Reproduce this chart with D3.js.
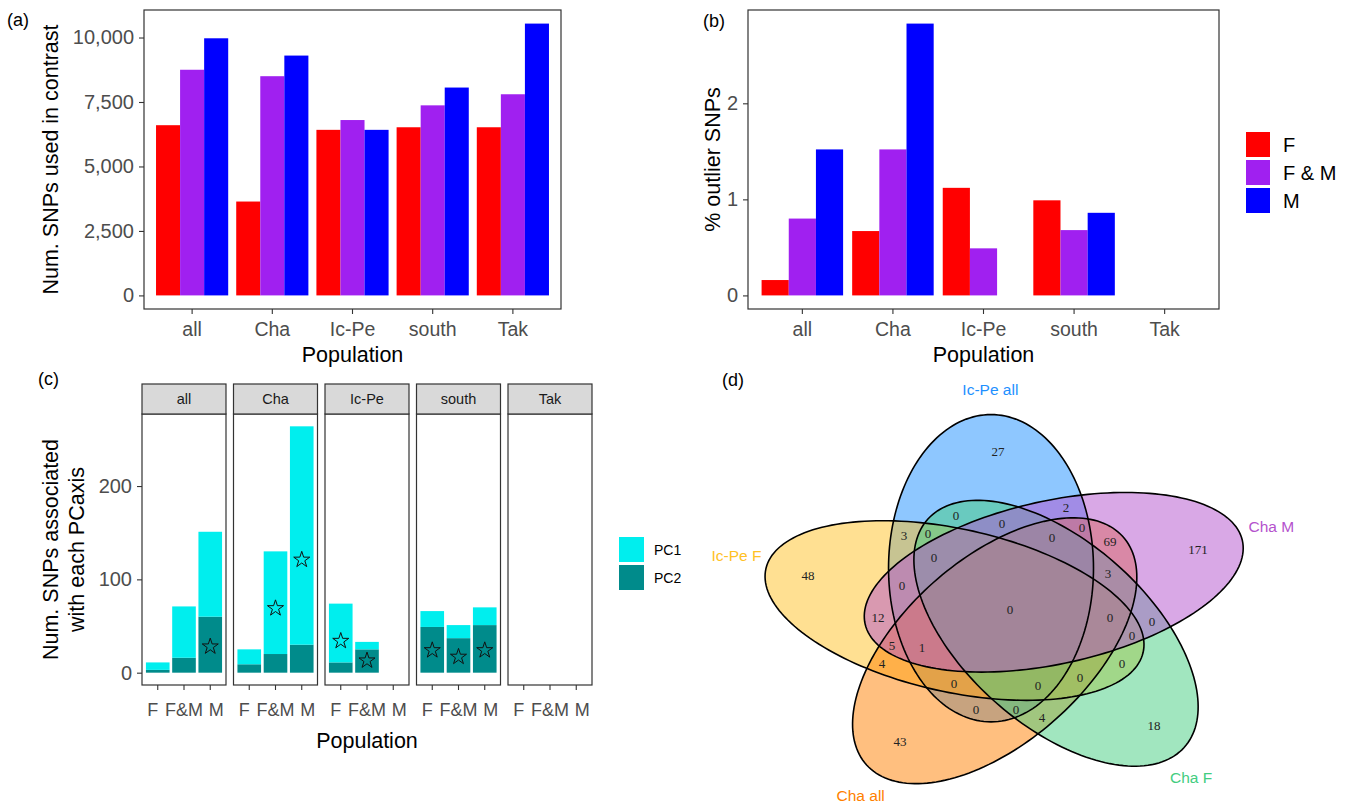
<!DOCTYPE html>
<html>
<head>
<meta charset="utf-8">
<script src="https://cdn.jsdelivr.net/npm/d3@7"></script>
<style>
body { margin: 0; background: #fff; }
text { font-family: "Liberation Sans", Arial, sans-serif; }
</style>
</head>
<body>
<svg id="svg0" width="1353" height="811"></svg>
<script>
// ---- data ----
var pops = ["all", "Cha", "Ic-Pe", "south", "Tak"];
var sexes = ["F", "F & M", "M"];
var sexShort = ["F", "F&M", "M"];
var sexColors = ["#FF0000", "#A020F0", "#0000FF"];

// (a) number of SNPs used in contrast
var numF  = [6600, 3640, 6420, 6520, 6520];
var numFM = [8750, 8500, 6800, 7370, 7800];
var numM  = [9970, 9300, 6420, 8060, 10540];
var numTicks = [0, 2500, 5000, 7500, 10000];

// (b) % outlier SNPs
var pctF  = [0.16, 0.67, 1.12, 0.99, 0];
var pctFM = [0.80, 1.52, 0.49, 0.68, 0];
var pctM  = [1.52, 2.83, 0, 0.86, 0];
var pctTicks = [0, 1, 2];

// (c) SNPs associated with each PC axis
var pc1F  = [8, 16, 63, 17, 0];
var pc1FM = [55, 110, 8, 14, 0];
var pc1M  = [91, 234, 0, 19, 0];
var pc2F  = [3, 9, 11, 49, 0];
var pc2FM = [16, 20, 25, 37, 0];
var pc2M  = [60, 30, 0, 51, 0];
var starF  = [null, null, 34, 24, null];
var starFM = [null, 69, 13, 17, null];
var starM  = [28, 121, null, 24, null];
var pcTicks = [0, 100, 200];
var pcNames = ["PC1", "PC2"];
var pcColors = ["#00EEEE", "#008B8B"];

// (d) venn: sets in drawing order, region counts keyed by member sets
var vennSets = ["Ic-Pe all", "Ic-Pe F", "Cha all", "Cha F", "Cha M"];
var vennFill = ["#1E90FF", "#FFC125", "#FF7F00", "#43CD80", "#B452CD"];
var vennCode = ["B", "Y", "O", "G", "P"];
var vennRegion = ["B", "Y", "O", "G", "P", "BY", "BP", "YP", "YO", "OG", "OP", "YOP", "BYOP", "OGP"];
var vennCount  = [27, 48, 43, 18, 171, 3, 2, 12, 4, 4, 69, 5, 1, 3];

var svg = d3.select('#svg0');
svg.append('rect').attr('width', 1353).attr('height', 811).attr('fill', '#fff');

function styleAxis(g, size) {
    g.select('.domain').remove();
    g.selectAll('.tick line').attr('stroke', '#333333').attr('stroke-width', 1.1);
    g.selectAll('.tick text').attr('fill', '#4D4D4D').style('font-size', size + 'px')
        .style('font-family', '"Liberation Sans", Arial, sans-serif');
}

// ---- bar panels (a) and (b) ----
function barPanel(left, right, top, bottom, series, ticks, fmt, title, titleX) {
    var g = svg.append('g');
    var maxV = d3.max(series, function (s) { return d3.max(s); });
    var y = d3.scaleLinear().domain([-0.05 * maxV, 1.05 * maxV]).range([bottom, top]);
    var x = d3.scaleBand().domain(pops).range([left, right]).paddingInner(0.1).paddingOuter(0.15);
    var xs = d3.scaleBand().domain(sexes).range([0, x.bandwidth()]);

    sexes.forEach(function (s, j) {
        g.selectAll('rect.s' + j)
            .data(series[j])
            .enter()
            .append('rect')
            .attr('x', function (d, i) { return x(pops[i]) + xs(s); })
            .attr('width', xs.bandwidth())
            .attr('y', function (d) { return y(Math.max(d, 0)); })
            .attr('height', function (d) { return y(0) - y(Math.max(d, 0)); })
            .attr('fill', sexColors[j]);
    });

    g.append('rect')
        .attr('x', left).attr('y', top)
        .attr('width', right - left).attr('height', bottom - top)
        .attr('fill', 'none').attr('stroke', '#333333').attr('stroke-width', 1.2);

    var ya = g.append('g').attr('transform', 'translate(' + left + ',0)')
        .call(d3.axisLeft(y).tickValues(ticks).tickFormat(fmt).tickSize(5).tickPadding(5));
    styleAxis(ya, 20);
    var xa = g.append('g').attr('transform', 'translate(0,' + bottom + ')')
        .call(d3.axisBottom(x).tickSize(5).tickPadding(8));
    styleAxis(xa, 19.5);

    g.append('text')
        .attr('x', (left + right) / 2).attr('y', 362)
        .attr('text-anchor', 'middle')
        .style('font-size', '21.5px')
        .text('Population');

    g.append('text')
        .attr('transform', 'translate(' + titleX + ',' + ((top + bottom) / 2) + ') rotate(-90)')
        .attr('text-anchor', 'middle')
        .style('font-size', '21.5px')
        .text(title);
}

barPanel(144, 561, 10, 309, [numF, numFM, numM], numTicks, d3.format(','), 'Num. SNPs used in contrast', 58);
barPanel(748, 1219, 10, 309, [pctF, pctFM, pctM], pctTicks, d3.format('d'), '% outlier SNPs', 720);

// legend (b)
var legB = svg.append('g');
sexes.forEach(function (s, j) {
    legB.append('rect').attr('x', 1246).attr('y', 132 + j * 28)
        .attr('width', 24).attr('height', 25).attr('fill', sexColors[j]);
    legB.append('text').attr('x', 1283).attr('y', 132 + j * 28 + 12.5)
        .attr('dy', '0.36em').style('font-size', '20px').text(s);
});

// ---- (c) facetted stacked bars ----
var cTop = 414, cBottom = 685, stripTop = 384;
var pcMax = d3.max([0, 1, 2, 3, 4].map(function (i) {
    return Math.max(pc1F[i] + pc2F[i], pc1FM[i] + pc2FM[i], pc1M[i] + pc2M[i]);
}));
var yC = d3.scaleLinear().domain([-0.05 * pcMax, 1.05 * pcMax]).range([cBottom, cTop]);
var facet = d3.scaleBand().domain(pops).range([142, 592]).paddingInner(0.082);
var pc1 = [pc1F, pc1FM, pc1M];
var pc2 = [pc2F, pc2FM, pc2M];
var stars = [starF, starFM, starM];
var labelNudge = [-5, 0, 6];   // tick labels spread apart as in the original

var gC = svg.append('g');
pops.forEach(function (p, i) {
    var px = facet(p), pw = facet.bandwidth();
    var xc = d3.scaleBand().domain(sexShort).range([px, px + pw]).paddingInner(0.1).paddingOuter(0.15);
    var cell = gC.append('g');

    sexShort.forEach(function (s, j) {
        var v2 = pc2[j][i], v1 = pc1[j][i];
        if (v2 > 0) {
            cell.append('rect').attr('x', xc(s)).attr('width', xc.bandwidth())
                .attr('y', yC(v2)).attr('height', yC(0) - yC(v2)).attr('fill', pcColors[1]);
        }
        if (v1 > 0) {
            cell.append('rect').attr('x', xc(s)).attr('width', xc.bandwidth())
                .attr('y', yC(v1 + v2)).attr('height', yC(v2) - yC(v1 + v2)).attr('fill', pcColors[0]);
        }
        if (stars[j][i] != null) {
            cell.append('path')
                .attr('d', d3.symbol(d3.symbolStar, 80)())
                .attr('transform', 'translate(' + (xc(s) + xc.bandwidth() / 2) + ',' + yC(stars[j][i]) + ')')
                .attr('fill', 'none').attr('stroke', '#111').attr('stroke-width', 1);
        }
    });

    cell.append('rect').attr('x', px).attr('y', cTop).attr('width', pw).attr('height', cBottom - cTop)
        .attr('fill', 'none').attr('stroke', '#333333').attr('stroke-width', 1.2);
    cell.append('rect').attr('x', px).attr('y', stripTop).attr('width', pw).attr('height', cTop - stripTop)
        .attr('fill', '#D9D9D9').attr('stroke', '#333333').attr('stroke-width', 1.2);
    cell.append('text').attr('x', px + pw / 2).attr('y', (stripTop + cTop) / 2).attr('dy', '0.36em')
        .attr('text-anchor', 'middle').attr('fill', '#1A1A1A').style('font-size', '14.5px').text(p);

    var xa = cell.append('g').attr('transform', 'translate(0,' + cBottom + ')')
        .call(d3.axisBottom(xc).tickSize(5).tickPadding(13));
    styleAxis(xa, 18);
    xa.selectAll('.tick text').attr('dx', function (d, j) { return labelNudge[j]; });
});

var yaC = gC.append('g').attr('transform', 'translate(142,0)')
    .call(d3.axisLeft(yC).tickValues(pcTicks).tickSize(5).tickPadding(5));
styleAxis(yaC, 20);

gC.append('text').attr('x', 367).attr('y', 748).attr('text-anchor', 'middle')
    .style('font-size', '21.5px').text('Population');
gC.append('text')
    .attr('transform', 'translate(58,' + ((cTop + cBottom) / 2) + ') rotate(-90)')
    .attr('text-anchor', 'middle').style('font-size', '21.5px').text('Num. SNPs associated');
gC.append('text')
    .attr('transform', 'translate(84,' + ((cTop + cBottom) / 2) + ') rotate(-90)')
    .attr('text-anchor', 'middle').style('font-size', '21.5px').text('with each PCaxis');

// legend (c)
pcNames.forEach(function (n, j) {
    gC.append('rect').attr('x', 619).attr('y', 537 + j * 28)
        .attr('width', 25).attr('height', 25).attr('fill', pcColors[j]);
    gC.append('text').attr('x', 654).attr('y', 537 + j * 28 + 12.5)
        .attr('dy', '0.36em').style('font-size', '14px').text(n);
});

// ---- (d) five-set venn ----
// ellipse k: long axis at 90 + 72k deg, centre offset a further 20 deg round
var vDist = 0.13, vMinor = 0.24, vMajor = 0.46, vAxis0 = 90, vTwist = 20, vCatAngle0 = 94, vCatR = 0.66;
var vx = d3.scaleLinear().domain([-1, 1]).range([1010 - 427, 1010 + 427]);
var vy = d3.scaleLinear().domain([-1, 1]).range([609 + 334, 609 - 334]);
var sxV = (vx(1) - vx(-1)) / 2, syV = (vy(-1) - vy(1)) / 2;

var ells = vennSets.map(function (name, k) {
    var ax = (vAxis0 + 72 * k) * Math.PI / 180;
    var off = (vAxis0 + vTwist + 72 * k) * Math.PI / 180;
    return { cx: vDist * Math.cos(off), cy: vDist * Math.sin(off), c: Math.cos(ax), s: Math.sin(ax) };
});

function ellPts(e) {
    return d3.range(0, 360, 2).map(function (t) {
        var r = t * Math.PI / 180, p = vMajor * Math.cos(r), q = vMinor * Math.sin(r);
        return [e.cx + p * e.c - q * e.s, e.cy + p * e.s + q * e.c];
    });
}
var eLine = d3.line().x(function (d) { return vx(d[0]); }).y(function (d) { return vy(d[1]); })
    .curve(d3.curveLinearClosed);

var gD = svg.append('g');
ells.forEach(function (e, k) {
    gD.append('path').attr('d', eLine(ellPts(e))).attr('fill', vennFill[k]).attr('fill-opacity', 0.5);
});
ells.forEach(function (e, k) {
    gD.append('path').attr('d', eLine(ellPts(e))).attr('fill', 'none')
        .attr('stroke', '#000').attr('stroke-width', 1.6);
});

// each region's label goes at its deepest grid point
var best = {};
for (var px = 740; px <= 1270; px += 2) {
    for (var py = 395; py <= 800; py += 2) {
        var u = vx.invert(px), v = vy.invert(py), code = '', depth = Infinity;
        ells.forEach(function (e, k) {
            var du = u - e.cx, dv = v - e.cy;
            var p = du * e.c + dv * e.s, q = -du * e.s + dv * e.c;
            var F = p * p / (vMajor * vMajor) + q * q / (vMinor * vMinor);
            var fu = 2 * p / (vMajor * vMajor) * e.c - 2 * q / (vMinor * vMinor) * e.s;
            var fv = 2 * p / (vMajor * vMajor) * e.s + 2 * q / (vMinor * vMinor) * e.c;
            var gx = fu / sxV, gy = fv / syV;
            depth = Math.min(depth, Math.abs(F - 1) / Math.sqrt(gx * gx + gy * gy));
            if (F < 1) code += vennCode[k];
        });
        if (code === '') continue;
        if (!best[code] || best[code].d < depth) best[code] = { x: px, y: py, d: depth };
    }
}
Object.keys(best).forEach(function (code) {
    var idx = vennRegion.indexOf(code);
    gD.append('text').attr('x', best[code].x).attr('y', best[code].y).attr('dy', '0.35em')
        .attr('text-anchor', 'middle').style('font-family', '"Liberation Serif", serif')
        .style('font-size', '13px').attr('fill', '#222')
        .text(idx < 0 ? 0 : vennCount[idx]);
});

vennSets.forEach(function (n, k) {
    var a = (vCatAngle0 + 72 * k) * Math.PI / 180;
    gD.append('text').attr('x', vx(vCatR * Math.cos(a))).attr('y', vy(vCatR * Math.sin(a)))
        .attr('dy', '0.35em').attr('text-anchor', 'middle')
        .attr('fill', vennFill[k]).style('font-size', '15.5px').text(n);
});

// panel letters
[['(a)', 7, 26], ['(b)', 703, 27], ['(c)', 38, 385], ['(d)', 722, 386]].forEach(function (t) {
    svg.append('text').attr('x', t[1]).attr('y', t[2]).style('font-size', '18px').text(t[0]);
});
</script>
</body>
</html>
